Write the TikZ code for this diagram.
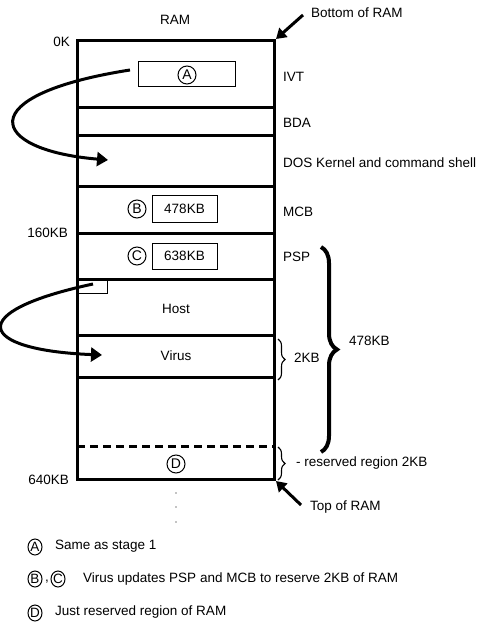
\documentclass[tikz,border=0pt]{standalone}
\usepackage{fontspec}
\setmainfont{Liberation Sans}
\usetikzlibrary{arrows.meta,decorations.pathreplacing,shapes.geometric}
\begin{document}
\begin{tikzpicture}[x=1pt,y=-1pt,font=\fontsize{13.5}{15}\selectfont]
\tikzset{
  frame/.style={line width=3pt},
  thin/.style={line width=1pt},
  lbl/.style={inner sep=0pt,anchor=west},
  circ/.style={draw,circle,line width=1pt,inner sep=0pt,minimum size=18pt,font=\fontsize{14}{14}\selectfont},
  lcirc/.style={draw,ellipse,line width=1pt,inner sep=0pt,minimum width=14pt,minimum height=16pt,font=\fontsize{13.5}{14}\selectfont},
  valbox/.style={draw,line width=1pt,inner sep=0pt},
  bigarrow/.style={line width=3pt,-{Triangle[length=11pt,width=14pt]}},
  ptarrow/.style={line width=3pt,-{Triangle[length=10pt,width=12pt]}},
  smallbrace/.style={decorate,decoration={brace,amplitude=7pt},line width=1.1pt},
  bigbrace/.style={decorate,decoration={brace,amplitude=16pt},line width=4pt},
}
\fill[white] (0,0) rectangle (487,628);
\useasboundingbox (0,0) rectangle (487,628);

% memory map frame and partitions
\draw[frame] (77,41) rectangle (274,479);
\foreach \yy in {108,136,187,233,279,335,377}
  \draw[frame] (77,\yy) -- (274,\yy);
\draw[frame,dash pattern=on 8pt off 5pt] (77,446) -- (274,446);

% coordinates of the frame corners
\coordinate (tr) at (276,39);
\coordinate (br) at (276,481);

% titles and addresses
\node (ram) at (175,20) {RAM};
\node[inner sep=0pt,anchor=east] (k0) at (70,42) {0K};
\node[inner sep=0pt,anchor=east] (k160) at (68,233) {160KB};
\node[inner sep=0pt,anchor=east] (k640) at (69,480) {640KB};

% right labels
\node[lbl] (bot) at (311,13) {Bottom of RAM};
\node[lbl] (ivt) at (283,77) {IVT};
\node[lbl] (bda) at (283,123) {BDA};
\node[lbl] (dos) at (283,163) {DOS Kernel and command shell};
\node[lbl] (mcb) at (283,212) {MCB};
\node[lbl] (psp) at (283,257) {PSP};
\node[lbl] (kb2) at (294,358) {2KB};
\node[lbl] (kb478) at (349,341) {478KB};
\node[lbl] (res) at (296,463) {- reserved region 2KB};
\node[lbl] (top) at (310,507) {Top of RAM};

% arrows to the frame corners
\coordinate (botT) at (303,15);
\coordinate (topT) at (301,505);
\draw[ptarrow] (botT) -- (tr);
\draw[ptarrow] (topT) -- (br);

% contents
\node[valbox,minimum width=97pt,minimum height=25pt] (boxA) at (186.5,74.5) {};
\node[circ] (cA) at (187,75) {A};
\node[circ] (cB) at (137,209) {B};
\node[valbox,minimum width=65pt,minimum height=26pt] (boxB) at (184.5,209) {478KB};
\node[circ] (cC) at (137,256) {C};
\node[valbox,minimum width=65pt,minimum height=26pt] (boxC) at (184.5,256) {638KB};
\draw[thin] (77,279) rectangle (107,293);
\node (host) at (176,309) {Host};
\node (virus) at (176,356) {Virus};
\node[circ] (cD) at (176,464) {D};

% dots below
\foreach \yy in {493,507,522}
  \fill (176,\yy) circle (0.7pt);

% curved arrows
\coordinate (a1s) at (130,70);
\coordinate (a1e) at (108,160);
\draw[bigarrow] (a1s) .. controls (-30,95) and (-12,150) .. (a1e);
\coordinate (a2s) at (93,284);
\coordinate (a2e) at (102,355);
\draw[bigarrow] (a2s) .. controls (-38,312) and (-22,350) .. (a2e);

% braces
\draw[smallbrace] (278,339) -- (278,380);
\draw[smallbrace] (278,447) -- (278,480);
\draw[bigbrace] (321,247) -- (321,452);

% legend
\node[lcirc] (lA) at (35,547) {A};
\node[lbl] (tA) at (55,546) {Same as stage 1};
\node[lcirc] (lB) at (35,579) {B};
\node[inner sep=0pt] (comma) at (47,582) {,};
\node[lcirc] (lC) at (58,579) {C};
\node[lbl] (tBC) at (83,579) {Virus updates PSP and MCB to reserve 2KB of RAM};
\node[lcirc] (lD) at (35,613) {D};
\node[lbl] (tD) at (55,612) {Just reserved region of RAM};
\end{tikzpicture}
\end{document}
